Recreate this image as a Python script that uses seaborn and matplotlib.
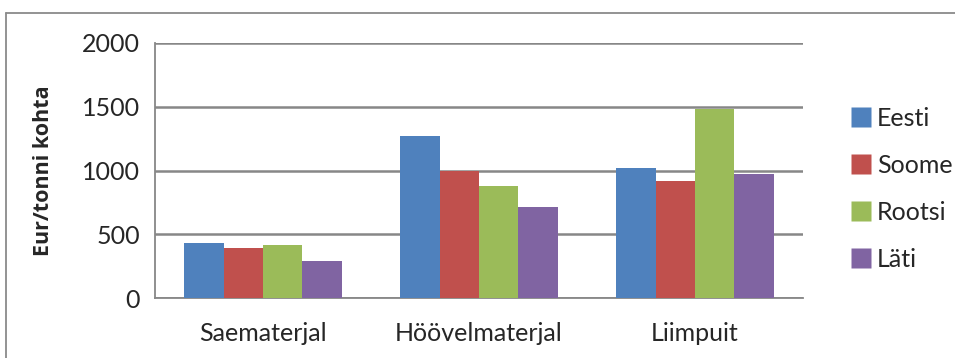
import matplotlib
matplotlib.use("Agg")
import matplotlib.pyplot as plt
import matplotlib.lines as mlines
import seaborn as sns
import pandas as pd

categories = ["Saematerjal", "Höövelmaterjal", "Liimpuit"]
countries = ["Eesti", "Soome", "Rootsi", "Läti"]
eesti = [430, 1270, 1020]
soome = [395, 1000, 915]
rootsi = [415, 882, 1485]
lati = [293, 712, 970]
y_ticks = [0, 500, 1000, 1500, 2000]
y_label = "Eur/tonni kohta"

colors = ["#4F81BD", "#C0504D", "#9BBB59", "#8064A2"]
grid_color = "#878787"

sns.set_theme(style="white")
plt.rcParams["font.family"] = ["Lato", "DejaVu Sans"]

rows = []
for name, vals in zip(countries, [eesti, soome, rootsi, lati]):
    for cat, v in zip(categories, vals):
        rows.append({"kategooria": cat, "riik": name, "väärtus": v})
df = pd.DataFrame(rows)

fig = plt.figure(figsize=(9.55, 3.58), dpi=100)
ax = fig.add_axes([155 / 955, 1 - 298 / 358, (803 - 155) / 955, (298 - 43) / 358])

sns.barplot(data=df, x="kategooria", y="väärtus", hue="riik", order=categories,
            hue_order=countries, palette=colors, width=0.727, saturation=1,
            edgecolor="none", linewidth=0, legend=False, ax=ax, zorder=3)

ax.set_xlim(-0.5, 2.5)
ax.set_ylim(0, 2000)
ax.set_yticks(y_ticks)
ax.set_yticklabels([str(t) for t in y_ticks], fontsize=18)
ax.set_xticks(range(len(categories)))
ax.set_xticklabels(categories, fontsize=18)
ax.set_xticks([-0.5, 0.5, 1.5, 2.5], minor=True)
ax.tick_params(axis="x", which="major", length=0, pad=17)
ax.tick_params(axis="x", which="minor", length=6, width=1.3, color=grid_color, direction="out")
ax.tick_params(axis="y", length=6, width=1.3, color=grid_color, direction="out", pad=5)
ax.set_xlabel("")
ax.set_ylabel(y_label, fontsize=15.5, fontweight="bold", family=["Open Sans", "DejaVu Sans"], labelpad=20)

ax.yaxis.grid(True, color=grid_color, linewidth=1.8, zorder=0)
ax.set_axisbelow(True)
for side in ["top", "right"]:
    ax.spines[side].set_visible(False)
for side in ["left", "bottom"]:
    ax.spines[side].set_color(grid_color)
    ax.spines[side].set_linewidth(1.3)

# legend with square colour keys
handles = [mlines.Line2D([], [], marker="s", linestyle="none", markersize=14,
                         markerfacecolor=c, markeredgecolor="none") for c in colors]
fig.legend(handles, countries, loc="upper left", bbox_to_anchor=(838 / 955, 1 - 97 / 358),
           frameon=False, fontsize=18, labelspacing=0.96, handletextpad=0.15,
           handlelength=1.0, borderaxespad=0)

# chart frame
fig.add_artist(mlines.Line2D([6 / 955, 1], [1 - 13 / 358, 1 - 13 / 358],
                             color="#8a8a8a", linewidth=1.3))
fig.add_artist(mlines.Line2D([6 / 955, 6 / 955], [1 - 13 / 358, 0],
                             color="#8a8a8a", linewidth=1.3))

fig.savefig("out.png", dpi=100, facecolor="white")
